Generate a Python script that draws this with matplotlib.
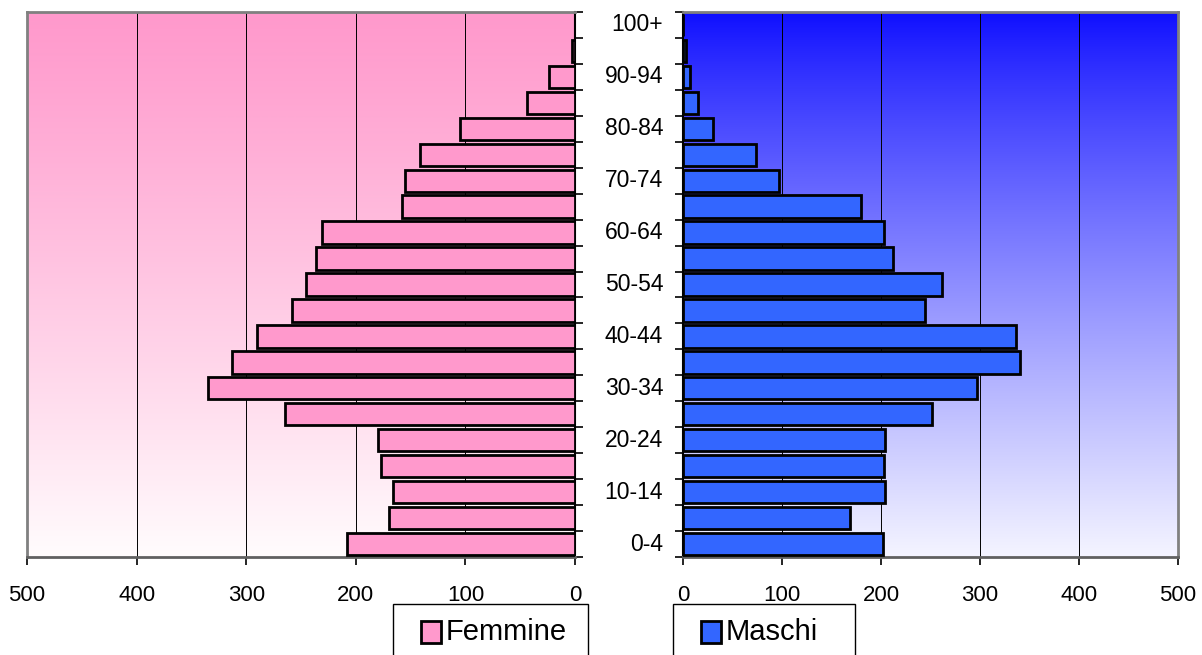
import matplotlib.pyplot as plt
import numpy as np
from matplotlib.patches import Rectangle

plt.rcParams["font.family"] = ["Liberation Sans", "DejaVu Sans"]

# fasce d'età dal basso verso l'alto
eta = ["0-4", "5-9", "10-14", "15-19", "20-24", "25-29", "30-34", "35-39",
       "40-44", "45-49", "50-54", "55-59", "60-64", "65-69", "70-74",
       "75-79", "80-84", "85-89", "90-94", "95-99", "100+"]
femmine = [208, 170, 166, 177, 180, 265, 335, 313, 290, 258, 245, 236, 231,
           158, 155, 141, 105, 44, 24, 3, 0]
maschi = [202, 169, 204, 203, 204, 252, 297, 340, 336, 244, 262, 212, 203,
          180, 97, 74, 30, 15, 7, 3, 0]
ticks_x = [0, 100, 200, 300, 400, 500]

col_f = "#FF99CC"
col_m = "#3366FF"
grigio = "#808080"

fig = plt.figure(figsize=(12.02, 6.55), dpi=100)
ax_f = fig.add_axes([27 / 1202, 1 - 557 / 655, 548 / 1202, 545 / 655])
ax_m = fig.add_axes([683 / 1202, 1 - 557 / 655, 495 / 1202, 545 / 655])


def sfondo(ax, top, bottom, gamma=1.0):
    t = np.linspace(0, 1, 256)[:, None, None] ** gamma
    img = np.array(top)[None, None, :] * (1 - t) + np.array(bottom)[None, None, :] * t
    ax.imshow(img / 255, extent=[0, 1, 0, 1], transform=ax.transAxes,
              aspect="auto", zorder=0, interpolation="bilinear")


sfondo(ax_f, (255, 153, 204), (255, 252, 253), 1.1)
sfondo(ax_m, (14, 14, 255), (244, 244, 255), 0.85)

y = np.arange(len(eta))
ax_f.barh(y, femmine, height=0.86, color=col_f, edgecolor="black",
          linewidth=2, zorder=3)
ax_m.barh(y, maschi, height=0.86, color=col_m, edgecolor="black",
          linewidth=2, zorder=3)

for ax in (ax_f, ax_m):
    ax.set_ylim(-0.5, len(eta) - 0.5)
    ax.set_xticks(ticks_x)
    ax.set_xticklabels([str(v) for v in ticks_x], fontsize=16)
    ax.tick_params(axis="x", direction="out", length=6, width=1.2,
                   color="black", pad=14)
    ax.set_yticks(np.arange(len(eta) + 1) - 0.5)
    ax.set_yticklabels([])
    ax.tick_params(axis="y", direction="out", length=6, width=1.2, color="black")
    ax.grid(axis="x", color="black", linewidth=0.7, zorder=1)
    ax.set_axisbelow(True)
    for s in ax.spines.values():
        s.set_color(grigio)
        s.set_linewidth(2)
    ax.spines["bottom"].set_color("#606060")

ax_f.set_xlim(500, 0)
ax_m.set_xlim(0, 500)

ax_f.yaxis.tick_right()
ax_f.spines["right"].set_color("black")
ax_f.spines["right"].set_linewidth(1.5)
ax_m.spines["left"].set_color("black")
ax_m.spines["left"].set_linewidth(1.5)

# etichette delle fasce, una ogni due, tra i due grafici
for i in range(0, len(eta), 2):
    ax_m.text(-0.04, (i + 0.5) / len(eta), eta[i], transform=ax_m.transAxes,
              ha="right", va="center", fontsize=16.5)


def legenda(x0, x1, colore, testo):
    fw, fh = 1202, 655
    fig.add_artist(Rectangle((x0 / fw, -0.05), (x1 - x0) / fw, 1 - 604 / fh + 0.05,
                             transform=fig.transFigure, facecolor="white",
                             edgecolor="black", linewidth=1, clip_on=False))
    fig.add_artist(Rectangle(((x0 + 28) / fw, 1 - 643 / fh), 20 / fw, 22 / fh,
                             transform=fig.transFigure, facecolor=colore,
                             edgecolor="black", linewidth=2))
    fig.text((x0 + 53) / fw, 1 - 632 / fh, testo, fontsize=21,
             ha="left", va="center")


legenda(393, 588, col_f, "Femmine")
legenda(673, 855, col_m, "Maschi")

fig.savefig("out.png", dpi=100)
